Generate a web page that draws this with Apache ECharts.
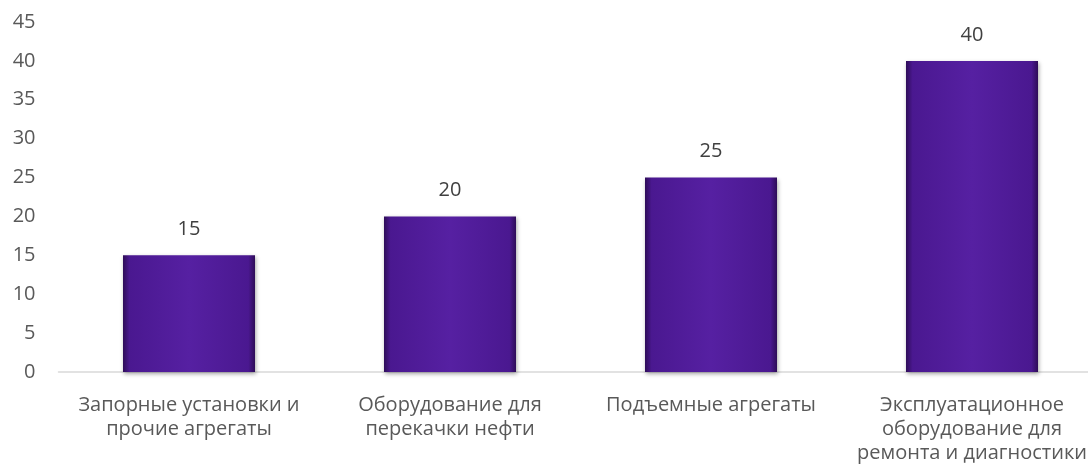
<!DOCTYPE html>
<html>
<head>
<meta charset="utf-8">
<script src="https://cdn.jsdelivr.net/npm/echarts@6/dist/echarts.min.js"></script>
<style>html,body{margin:0;padding:0;background:#fff}#c{width:1088px;height:474px}</style>
</head>
<body>
<div id="c"></div>
<script>
const categories = ["Запорные установки и\nпрочие агрегаты", "Оборудование для\nперекачки нефти", "Подъемные агрегаты", "Эксплуатационное\nоборудование для\nремонта и диагностики"];
const values = [15, 20, 25, 40];
const yTicks = { min: 0, max: 45, interval: 5 };

const chart = echarts.init(document.getElementById('c'), null, { renderer: 'canvas' });
const font = '"Open Sans", "Noto Sans", sans-serif';
chart.setOption({
  animation: false,
  grid: { left: 58.5, top: 22, right: -14.5, bottom: 102, containLabel: false, outerBoundsMode: 'none' },
  xAxis: {
    type: 'category',
    data: categories,
    axisLine: { lineStyle: { color: '#d9d9d9', width: 1.5 } },
    axisTick: { show: false },
    axisLabel: { color: '#595959', fontSize: 20, fontFamily: font, lineHeight: 24, margin: 21, interval: 0, hideOverlap: false }
  },
  yAxis: {
    type: 'value',
    min: yTicks.min, max: yTicks.max, interval: yTicks.interval,
    axisLine: { show: false },
    axisTick: { show: false },
    splitLine: { show: false },
    axisLabel: { color: '#595959', fontSize: 20, fontFamily: font, margin: 23 }
  },
  series: [{
    type: 'bar',
    data: values,
    barWidth: 132,
    itemStyle: {
      color: new echarts.graphic.LinearGradient(0, 0, 1, 0, [
        { offset: 0, color: '#2e0c58' },
        { offset: 0.05, color: '#4a1890' },
        { offset: 0.5, color: '#5620a2' },
        { offset: 0.95, color: '#4a1890' },
        { offset: 1, color: '#2e0c58' }
      ]),
      shadowColor: 'rgba(0,0,0,0.35)',
      shadowBlur: 4,
      shadowOffsetX: 1,
      shadowOffsetY: 2
    },
    label: {
      show: true, position: 'top', distance: 16,
      color: '#404040', fontSize: 20, fontFamily: font
    }
  }]
});
</script>
</body>
</html>
